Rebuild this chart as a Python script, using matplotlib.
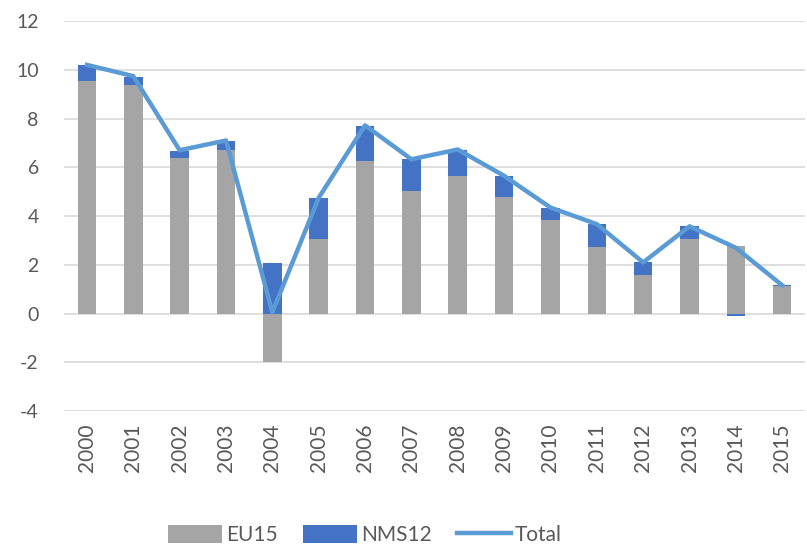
import numpy as np
import matplotlib
matplotlib.use("Agg")
import matplotlib.pyplot as plt

years = [str(y) for y in range(2000, 2016)]
eu15 = [9.52, 9.36, 6.38, 6.69, -2.0, 3.05, 6.27, 5.01, 5.64, 4.77, 3.83, 2.73, 1.57, 3.05, 2.76, 1.13]
nms12 = [0.66, 0.35, 0.30, 0.40, 2.06, 1.70, 1.43, 1.32, 1.08, 0.87, 0.51, 0.93, 0.53, 0.53, -0.08, 0.04]
total = [10.2, 9.74, 6.7, 7.1, 0.06, 4.75, 7.72, 6.33, 6.73, 5.65, 4.35, 3.67, 2.1, 3.58, 2.7, 1.16]

plt.rcParams['font.family'] = ['Lato', 'DejaVu Sans']
plt.rcParams['axes.unicode_minus'] = False

fig = plt.figure(figsize=(8.07, 5.46), dpi=100)
ax = fig.add_axes([0.079, 0.247, 0.919, 0.7145])

x = np.arange(len(years))
eu = np.array(eu15)
nm = np.array(nms12)
# stack positives and negatives separately like Excel does
nm_bottom = np.where(nm >= 0, np.maximum(eu, 0), np.minimum(eu, 0))

b1 = ax.bar(x, eu, width=0.4, color="#A5A5A5", label="EU15", zorder=2)
b2 = ax.bar(x, nm, width=0.4, bottom=nm_bottom, color="#4472C4", label="NMS12", zorder=2)
ln, = ax.plot(x, total, color="#5B9BD5", lw=3.2, label="Total", zorder=3)

ax.set_ylim(-4, 12)
ax.set_yticks(range(-4, 13, 2))
ax.set_xlim(-0.5, len(years) - 0.5)
ax.set_xticks(x)
ax.set_xticklabels(years, rotation=90, fontsize=15, color="#595959")
ax.tick_params(axis='y', labelsize=14, colors="#595959", length=0, pad=18)
ax.tick_params(axis='x', length=0, pad=9)
ax.grid(axis='y', color="#D9D9D9", lw=1.2, zorder=0)
for s in ax.spines.values():
    s.set_visible(False)

fig.legend(handles=[b1, b2, ln], loc="center", bbox_to_anchor=(0.452, 0.02), ncol=3,
           frameon=False, fontsize=15, handlelength=2.6, handleheight=1.0,
           handletextpad=0.2, columnspacing=1.2, labelcolor="#595959", borderaxespad=0)

fig.savefig("out.png", dpi=100)
